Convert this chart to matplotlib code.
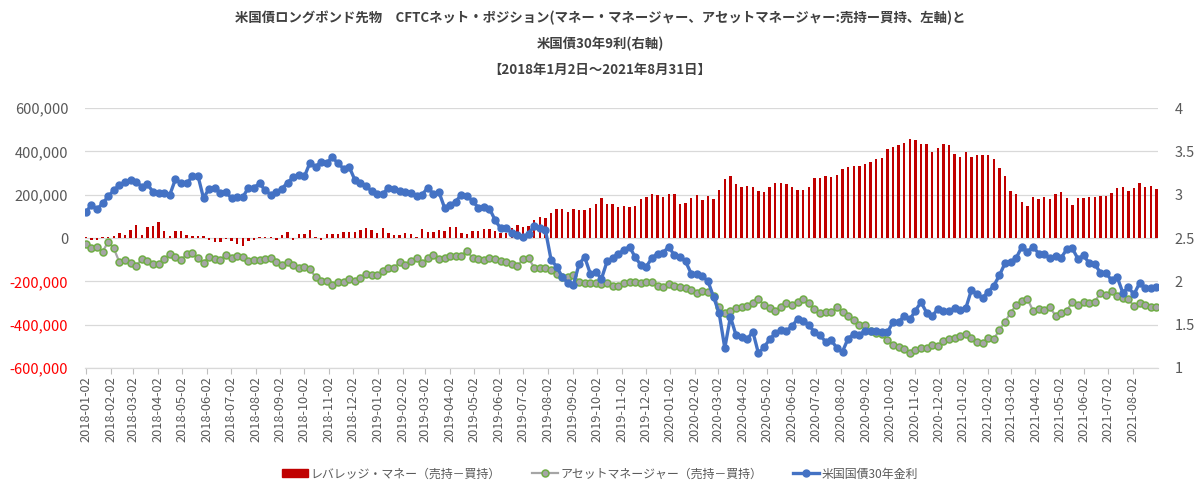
import matplotlib
matplotlib.use("Agg")
import matplotlib.pyplot as plt
import matplotlib.dates as mdates
from matplotlib.ticker import FixedLocator, FuncFormatter
from matplotlib.lines import Line2D
from matplotlib.patches import Patch
import pandas as pd

plt.rcParams['font.family'] = ['Noto Sans CJK JP', 'DejaVu Sans']

# ---- data (weekly, Tuesdays) ----
start_date = "2018-01-02"
n_weeks = 192
dates = pd.date_range(start_date, periods=n_weeks, freq="7D")

leveraged_money = [  # thousand contracts (short - long)
    6, -10, -10, 5, 3, 8, 25, 14, 38, 58,
    16, 50, 55, 72, 34, 9, 33, 34, 16, 9,
    7, 11, -10, -17, -18, -5, -16, -28, -37, -12,
    -10, 6, 3, 5, -8, 12, 29, -7, 17, 18,
    37, 6, -7, 20, 18, 20, 30, 26, 30, 36,
    45, 37, 22, 48, 22, 14, 14, 22, 18, 6,
    40, 26, 26, 37, 32, 49, 49, 25, 18, 32,
    32, 40, 40, 32, 25, 25, 45, 60, 49, 57,
    83, 98, 94, 114, 132, 132, 118, 132, 129, 129,
    137, 157, 183, 157, 157, 142, 150, 142, 148, 178,
    191, 201, 198, 191, 201, 205, 157, 160, 183, 198,
    175, 195, 181, 221, 272, 288, 249, 237, 240, 234,
    218, 214, 237, 252, 252, 248, 234, 221, 221, 234,
    278, 278, 286, 280, 291, 318, 326, 332, 332, 340,
    352, 364, 371, 411, 421, 429, 440, 455, 452, 432,
    434, 395, 417, 432, 429, 388, 375, 395, 375, 383,
    383, 383, 364, 321, 286, 218, 203, 168, 148, 188,
    181, 191, 178, 201, 211, 183, 152, 183, 183, 191,
    191, 195, 195, 206, 229, 237, 218, 229, 252, 234,
    240, 226,
]

asset_manager = [  # thousand contracts (short - long)
    -28, -45, -43, -63, -17, -48, -112, -101, -114, -128,
    -98, -105, -120, -120, -97, -74, -89, -101, -74, -71,
    -94, -114, -86, -98, -101, -78, -94, -82, -89, -105,
    -101, -101, -98, -94, -109, -125, -109, -125, -138, -132,
    -145, -180, -200, -200, -215, -205, -203, -190, -200, -185,
    -165, -172, -172, -151, -137, -137, -112, -125, -105, -94,
    -117, -91, -80, -95, -91, -83, -83, -82, -58, -94,
    -98, -101, -94, -97, -106, -109, -120, -128, -98, -94,
    -137, -137, -137, -148, -166, -181, -178, -171, -201, -206,
    -209, -206, -212, -209, -221, -220, -206, -201, -201, -209,
    -201, -205, -221, -225, -212, -220, -225, -232, -240, -252,
    -245, -251, -268, -317, -345, -335, -325, -320, -315, -300,
    -283, -309, -325, -335, -317, -298, -309, -294, -283, -301,
    -329, -348, -340, -340, -320, -340, -360, -378, -401, -401,
    -428, -440, -444, -471, -494, -504, -514, -532, -517, -509,
    -509, -494, -498, -474, -468, -463, -452, -444, -463, -478,
    -486, -463, -466, -424, -386, -345, -309, -289, -283, -335,
    -329, -332, -320, -358, -348, -335, -297, -309, -294, -301,
    -294, -255, -263, -245, -268, -278, -283, -314, -298, -309,
    -317, -317,
]

yield_30y = [  # %
    2.80, 2.88, 2.83, 2.90, 2.98, 3.05, 3.11, 3.15, 3.17, 3.15,
    3.09, 3.12, 3.03, 3.02, 3.02, 3.00, 3.18, 3.13, 3.13, 3.21,
    3.22, 2.96, 3.07, 3.08, 3.02, 3.03, 2.96, 2.97, 2.97, 3.08,
    3.08, 3.13, 3.05, 3.00, 3.03, 3.07, 3.14, 3.20, 3.23, 3.21,
    3.37, 3.32, 3.38, 3.37, 3.43, 3.36, 3.30, 3.32, 3.17, 3.14,
    3.10, 3.04, 3.01, 3.01, 3.08, 3.06, 3.04, 3.03, 3.02, 2.99,
    3.00, 3.08, 3.01, 3.03, 2.85, 2.88, 2.92, 3.00, 2.98, 2.93,
    2.85, 2.86, 2.84, 2.71, 2.61, 2.61, 2.56, 2.53, 2.51, 2.55,
    2.64, 2.62, 2.59, 2.25, 2.17, 2.05, 1.98, 1.96, 2.20, 2.28,
    2.09, 2.11, 2.03, 2.23, 2.27, 2.32, 2.36, 2.40, 2.28, 2.19,
    2.17, 2.27, 2.32, 2.33, 2.40, 2.30, 2.28, 2.23, 2.09, 2.08,
    2.06, 2.00, 1.82, 1.63, 1.23, 1.59, 1.38, 1.36, 1.33, 1.42,
    1.17, 1.24, 1.33, 1.40, 1.44, 1.43, 1.48, 1.57, 1.54, 1.50,
    1.41, 1.38, 1.30, 1.32, 1.23, 1.19, 1.34, 1.39, 1.38, 1.43,
    1.43, 1.43, 1.41, 1.41, 1.53, 1.53, 1.60, 1.56, 1.66, 1.76,
    1.64, 1.60, 1.68, 1.66, 1.66, 1.69, 1.67, 1.69, 1.90, 1.85,
    1.81, 1.88, 1.95, 2.07, 2.21, 2.22, 2.27, 2.40, 2.34, 2.40,
    2.32, 2.31, 2.27, 2.29, 2.27, 2.37, 2.38, 2.26, 2.30, 2.21,
    2.20, 2.10, 2.10, 2.01, 2.05, 1.87, 1.93, 1.85, 1.98, 1.92,
    1.92, 1.93,
]

title_lines = [
    "米国債ロングボンド先物　CFTCネット・ポジション(マネー・マネージャー、アセットマネージャー:売持ー買持、左軸)と",
    "米国債30年9利(右軸)",
    "【2018年1月2日～2021年8月31日】",
]
legend_labels = [
    "レバレッジ・マネー（売持－買持）",
    "アセットマネージャー（売持－買持）",
    "米国国債30年金利",
]
left_ticks = [600000, 400000, 200000, 0, -200000, -400000, -600000]
right_ticks = [4, 3.5, 3, 2.5, 2, 1.5, 1]
month_ticks = pd.date_range("2018-01-01", "2021-08-01", freq="MS") + pd.Timedelta(days=1)

# ---- colours ----
C_BAR = "#C00000"
C_AM_LINE = "#A5A5A5"
C_AM_EDGE = "#70AD47"
C_YLD = "#4472C4"
C_GRID = "#D9D9D9"
C_TXT = "#595959"
C_NEG = "#FF0000"

W, H = 1200, 497
fig = plt.figure(figsize=(W / 100, H / 100), dpi=100)
ax = fig.add_axes([85 / W, (H - 368) / H, (1158 - 85) / W, (368 - 108) / H])
ax2 = ax.twinx()

lev_vals = [v * 1000 for v in leveraged_money]
am_vals = [v * 1000 for v in asset_manager]

ax.bar(dates, lev_vals, width=3.0, color=C_BAR, zorder=2)
ax.plot(dates, am_vals, color=C_AM_LINE, lw=1.6, marker="o", ms=5.0,
        mfc=C_AM_LINE, mec=C_AM_EDGE, mew=1.1, zorder=3)
ax2.plot(dates, yield_30y, color=C_YLD, lw=2.4, marker="o", ms=5.0,
         mfc=C_YLD, mec=C_YLD, zorder=3)

ax.set_ylim(-600000, 600000)
ax2.set_ylim(1, 4)
x0 = dates[0] - pd.Timedelta(days=1)
x1 = dates[-1] + pd.Timedelta(days=2)
ax.set_xlim(x0, x1)

ax.yaxis.set_major_locator(FixedLocator(left_ticks))
ax.yaxis.set_major_formatter(FuncFormatter(lambda v, p: f"{int(v):,}"))
ax2.yaxis.set_major_locator(FixedLocator(right_ticks))
ax2.yaxis.set_major_formatter(FuncFormatter(lambda v, p: f"{v:g}"))

ax.grid(axis="y", color=C_GRID, lw=0.9, zorder=0)
ax.set_axisbelow(True)
for a in (ax, ax2):
    for s in a.spines.values():
        s.set_visible(False)
ax.spines["bottom"].set_visible(True)
ax.spines["bottom"].set_color(C_GRID)
ax.spines["bottom"].set_linewidth(0.9)

ax.tick_params(axis="y", length=0, labelsize=10.5, labelcolor=C_TXT, pad=12)
ax2.tick_params(axis="y", length=0, labelsize=10.5, labelcolor=C_TXT, pad=12)
for lbl, v in zip(ax.get_yticklabels(), left_ticks):
    lbl.set_color(C_NEG if v < 0 else C_TXT)

ax.set_xticks(month_ticks)
ax.xaxis.set_major_formatter(mdates.DateFormatter("%Y-%m-%d"))
ax.tick_params(axis="x", length=4, color="#BFBFBF", labelsize=9.2,
               labelcolor=C_TXT, rotation=90, pad=2)

# title
for y, t in zip([18, 44, 70], title_lines):
    fig.text(0.5, 1 - y / H, t, ha="center", va="center", fontsize=9.6,
             fontweight="bold", color="#404040")

handles = [
    Patch(facecolor=C_BAR, edgecolor=C_BAR),
    Line2D([0], [0], color=C_AM_LINE, lw=1.6, marker="o", ms=5.0,
           mfc=C_AM_LINE, mec=C_AM_EDGE, mew=1.1),
    Line2D([0], [0], color=C_YLD, lw=2.4, marker="o", ms=5.0,
           mfc=C_YLD, mec=C_YLD),
]
fig.legend(handles, legend_labels, loc="center", bbox_to_anchor=(0.5, 1 - 474 / H),
           ncol=3, frameon=False, fontsize=8.6, labelcolor=C_TXT,
           handlelength=2.2, handleheight=0.6, handletextpad=0.2, columnspacing=2.6)

fig.savefig("out.png", dpi=100)
